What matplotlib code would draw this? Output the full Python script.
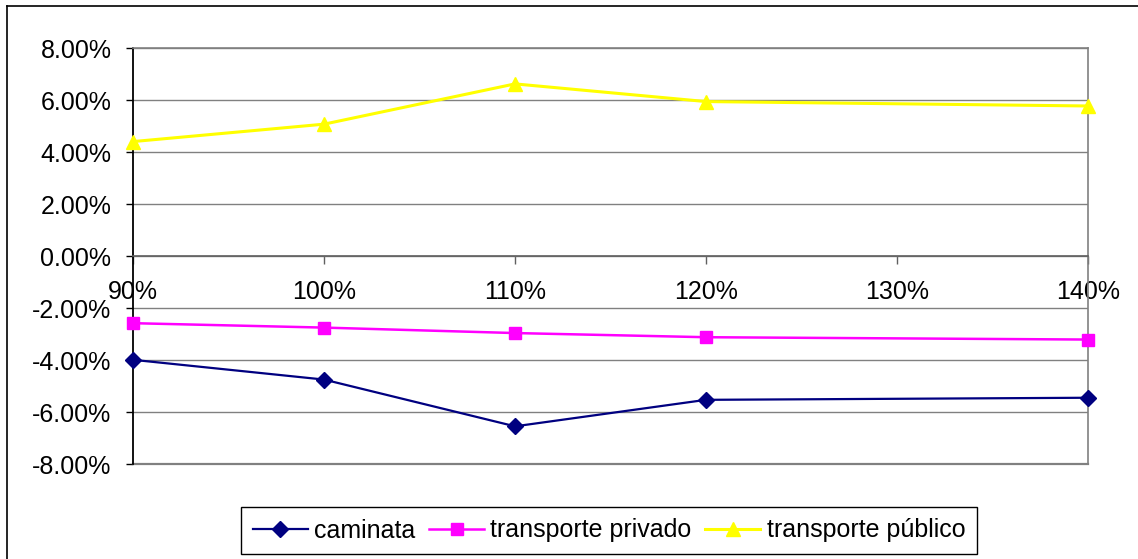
import matplotlib
matplotlib.use("Agg")
import matplotlib.pyplot as plt
from matplotlib.lines import Line2D
from matplotlib.ticker import FuncFormatter, FixedLocator

plt.rcParams['font.family'] = ['Liberation Sans', 'DejaVu Sans']

# Data
x_levels = [0.90, 1.00, 1.10, 1.20, 1.40]
caminata = [-0.0399, -0.0475, -0.0655, -0.0553, -0.0545]
privado = [-0.0258, -0.0275, -0.0296, -0.0312, -0.0321]
publico = [0.0441, 0.0508, 0.0663, 0.0595, 0.0578]
series_names = ['caminata', 'transporte privado', 'transporte público']
x_ticks = [0.90, 1.00, 1.10, 1.20, 1.30, 1.40]
y_ticks = [-0.08, -0.06, -0.04, -0.02, 0.0, 0.02, 0.04, 0.06, 0.08]

W, H = 1138, 559
fig = plt.figure(figsize=(W / 100, H / 100), dpi=100)
fig.patch.set_facecolor('white')

left, right, top, bottom = 133, 1088, 48.3, 464
ax = fig.add_axes([left / W, 1 - bottom / H, (right - left) / W, (bottom - top) / H])

ax.plot(x_levels, caminata, color='#000080', lw=1.6, marker='D', markersize=8.2,
        label=series_names[0], clip_on=False, zorder=5)
ax.plot(x_levels, privado, color='#FF00FF', lw=1.8, marker='s', markersize=8.2,
        label=series_names[1], clip_on=False, zorder=5)
ax.plot(x_levels, publico, color='#FFFF00', lw=2.2, marker='^', markersize=10,
        label=series_names[2], clip_on=False, zorder=5)

ax.set_xlim(0.90, 1.40)
ax.set_ylim(-0.08, 0.08)
ax.xaxis.set_major_locator(FixedLocator(x_ticks))
ax.yaxis.set_major_locator(FixedLocator(y_ticks))
ax.xaxis.set_major_formatter(FuncFormatter(lambda v, p: f"{v*100:.0f}%"))
ax.yaxis.set_major_formatter(FuncFormatter(lambda v, p: f"{v*100:.2f}%"))

ax.grid(axis='y', color='#808080', lw=1.0, zorder=1)
ax.set_axisbelow(True)

for s in ['top', 'right']:
    ax.spines[s].set_color('#808080')
    ax.spines[s].set_linewidth(1.2)
ax.spines['left'].set_color('black')
ax.spines['left'].set_linewidth(1.3)
ax.spines['bottom'].set_position(('data', 0))
ax.spines['bottom'].set_color('#606060')
ax.spines['bottom'].set_linewidth(1.2)
ax.axhline(-0.08, color='#808080', lw=1.6, clip_on=False, zorder=2)

ax.tick_params(axis='y', direction='out', length=5, width=1.0, color='black',
               pad=10.5, labelsize=18)
ax.tick_params(axis='x', direction='out', length=5.5, width=1.0, color='#606060',
               pad=11.5, labelsize=18)

fig.legend(loc='center', bbox_to_anchor=(609 / W, 1 - 530.5 / H), ncol=3,
           frameon=True, fancybox=False, edgecolor='black', framealpha=1,
           fontsize=18, handlelength=2.2, handletextpad=0.25, columnspacing=0.55,
           borderpad=0.47, borderaxespad=0)

# chart area border (clipped at right and bottom)
fig.add_artist(Line2D([7 / W, 1], [1 - 6 / H, 1 - 6 / H], transform=fig.transFigure,
                      color='black', lw=1.2))
fig.add_artist(Line2D([7 / W, 7 / W], [0, 1 - 6 / H], transform=fig.transFigure,
                      color='black', lw=1.2))

fig.savefig('out.png', dpi=100)
